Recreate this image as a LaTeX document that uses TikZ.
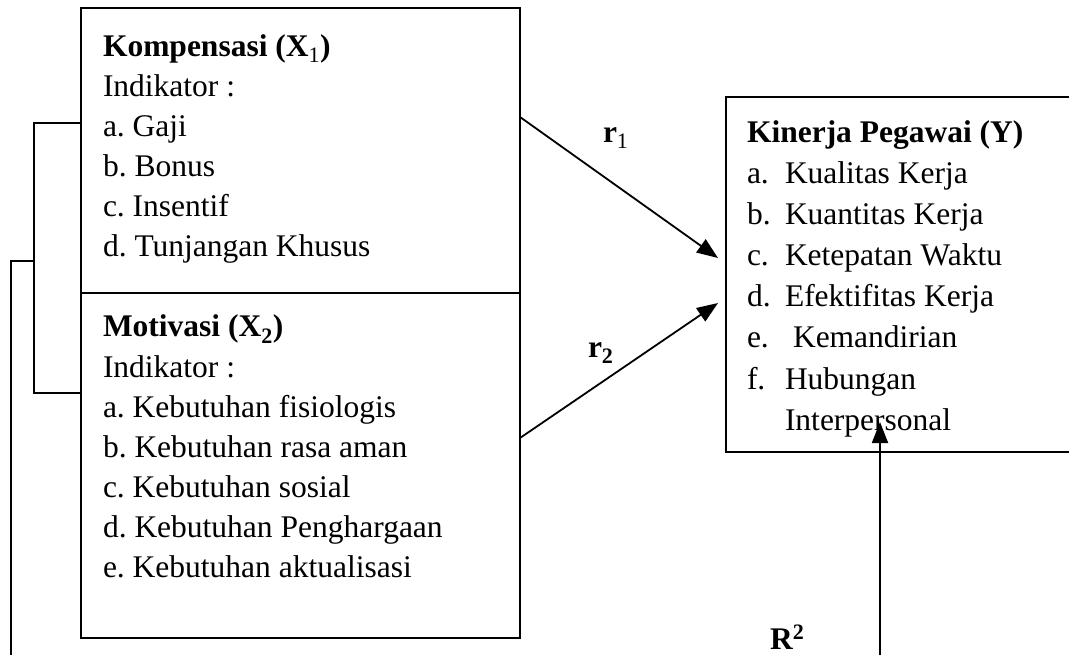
\documentclass[tikz,border=0pt]{standalone}
\usepackage{fontspec}
\setmainfont{Liberation Serif}
\usetikzlibrary{arrows.meta}
\frenchspacing
\tikzset{
  lbl/.style={anchor=base west, inner sep=0pt, outer sep=0pt, font=\fontsize{31.5}{40}\selectfont},
  boxnode/.style={draw, line width=1.5pt, inner sep=0pt, outer sep=0pt, anchor=north west},
  arr/.style={line width=1.8pt, -{Triangle[length=21pt,width=16pt]}},
  wire/.style={line width=1.5pt}
}
\begin{document}
\begin{tikzpicture}[x=1pt,y=-1pt]
\useasboundingbox (0,0) rectangle (1069,655);
% boxes
\node[boxnode, minimum width=439pt, minimum height=285pt] (bx1) at (81,8) {};
\node[boxnode, minimum width=439pt, minimum height=345pt] (bx2) at (81,293) {};
\node[boxnode, minimum width=360pt, minimum height=355pt] (by) at (726,97) {};
% X1 text
\node[lbl] (t11) at (103,57) {\textbf{Kompensasi (X}\textsubscript{1}\textbf{)}};
\node[lbl] (t12) at (103,97) {Indikator :};
\node[lbl] (t13) at (103,137) {a. Gaji};
\node[lbl] (t14) at (103,177) {b. Bonus};
\node[lbl] (t15) at (103,217) {c. Insentif};
\node[lbl] (t16) at (103,257) {d. Tunjangan Khusus};
% X2 text
\node[lbl] (t21) at (103,337) {\textbf{Motivasi (X\textsubscript{2})}};
\node[lbl] (t22) at (103,377) {Indikator :};
\node[lbl] (t23) at (103,417) {a. Kebutuhan fisiologis};
\node[lbl] (t24) at (103,457) {b. Kebutuhan rasa aman};
\node[lbl] (t25) at (103,497) {c. Kebutuhan sosial};
\node[lbl] (t26) at (103,537) {d. Kebutuhan Penghargaan};
\node[lbl] (t27) at (103,577) {e. Kebutuhan aktualisasi};
% Y text
\node[lbl] (ty0) at (747,143) {\textbf{Kinerja Pegawai (Y)}};
\node[lbl] (tya) at (747,184) {a.};
\node[lbl] (tyat) at (785,184) {Kualitas Kerja};
\node[lbl] (tyb) at (747,225) {b.};
\node[lbl] (tybt) at (785,225) {Kuantitas Kerja};
\node[lbl] (tyc) at (747,266) {c.};
\node[lbl] (tyct) at (785,266) {Ketepatan Waktu};
\node[lbl] (tyd) at (747,307) {d.};
\node[lbl] (tydt) at (785,307) {Efektifitas Kerja};
\node[lbl] (tye) at (747,348) {e.};
\node[lbl] (tyet) at (793,348) {Kemandirian};
\node[lbl] (tyf) at (747,389) {f.};
\node[lbl] (tyft) at (785,389) {Hubungan};
\node[lbl] (tyg) at (785,430) {Interpersonal};
% labels
\node[lbl] (lr1) at (603,143) {\textbf{r}\textsubscript{1}};
\node[lbl] (lr2) at (588,357) {\textbf{r\textsubscript{2}}};
\node[lbl] (lR) at (770,649) {\textbf{R\textsuperscript{2}}};
% connector coordinates
\coordinate (r1s) at (520,117);
\coordinate (r1t) at (718,258);
\coordinate (r2s) at (520,438);
\coordinate (r2t) at (718,303);
\coordinate (Rs) at (880,660);
\coordinate (Rt) at (880,422);
\draw[arr] (r1s) -- (r1t);
\draw[arr] (r2s) -- (r2t);
\draw[arr] (Rs) -- (Rt);
% brackets
\coordinate (b1) at (81,123);
\coordinate (b2) at (34,123);
\coordinate (b3) at (34,393);
\coordinate (b4) at (81,393);
\draw[wire] (b1) -- (b2) -- (b3) -- (b4);
\coordinate (c1) at (34,261);
\coordinate (c2) at (11,261);
\coordinate (c3) at (11,660);
\draw[wire] (c1) -- (c2) -- (c3);
\end{tikzpicture}
\end{document}
